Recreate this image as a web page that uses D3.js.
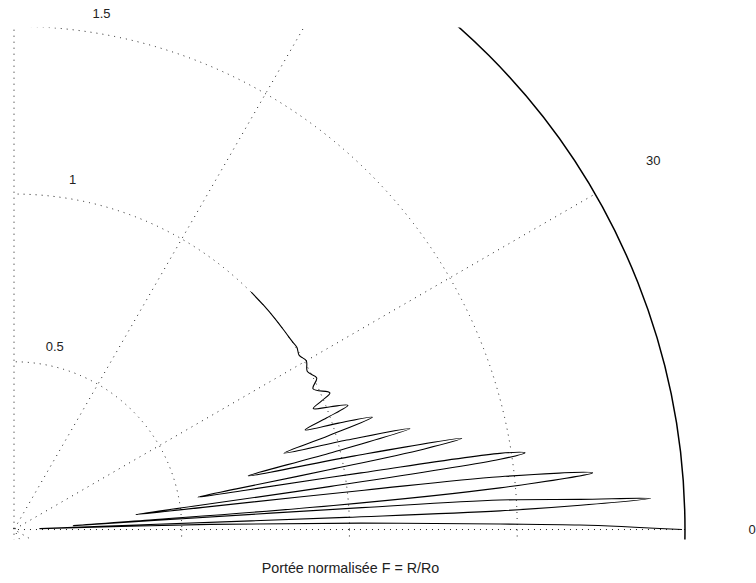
<!DOCTYPE html>
<html>
<head>
<meta charset="utf-8">
<script src="https://cdn.jsdelivr.net/npm/d3@7"></script>
<style>
  body { margin: 0; background: #fff; }
  svg { display: block; }
</style>
</head>
<body>
<script>
// ---- data ----
// normalized range F (radius) and angle in degrees along the traced curve
const rangeF = [
  1.000, 1.000, 1.000, 1.000, 1.001,
  1.003, 0.996, 1.006, 0.993, 1.009, 0.985,
  1.026, 0.994, 0.962, 1.012, 1.062, 0.990, 0.917, 1.018, 1.120, 0.978,
  0.836, 1.027, 1.218, 0.967, 0.716, 1.039, 1.362,
  1.244, 0.959, 0.674, 0.556,
  0.700, 1.048, 1.466, 1.540,
  1.464, 0.953, 0.538, 0.366,
  0.567, 1.050, 1.457, 1.733,
  1.454, 0.955, 0.405, 0.177,
  0.430, 1.039, 1.451, 1.690, 1.900,
  1.690, 1.450, 0.989, 0.344, 0.077,
  0.584, 1.034, 1.449, 1.687, 1.991
];
const angleDeg = [
  45.0, 42.0, 39.0, 36.0, 34.0,
  32.8, 31.4, 30.0, 28.3, 26.6, 25.2,
  23.4, 22.7, 22.0, 21.2, 20.4, 19.65, 18.9, 18.15, 17.4, 16.6,
  15.8, 15.05, 14.3, 13.6, 12.9, 12.2, 11.5,
  11.1, 10.75, 10.35, 10.0,
  9.64, 9.27, 8.91, 8.55,
  8.22, 7.75, 7.39, 7.0,
  6.7, 6.4, 6.2, 5.6,
  4.9, 4.3, 4.0, 3.8,
  3.7, 3.6, 3.47, 3.05, 2.8,
  2.45, 2.2, 2.1, 2.1, 2.1,
  1.52, 1.05, 0.65, 0.46, 0.0
];

const ringTicks = [0.5, 1, 1.5, 2];
const rMax = 2;
const spokeAngles = [30, 60, 90, 120, 150, 180];
const angleTicks = [0, 30, 60, 90, 120, 150, 180, 210, 240, 270, 300, 330];
const xLabel = "Portée normalisée F = R/Ro";

// ---- layout ----
const width = 756, height = 583;
const font = "'Liberation Sans', Arial, Helvetica, sans-serif";

const x = d3.scaleLinear().domain([-0.003, 2.009]).range([13, 688]);
const y = d3.scaleLinear().domain([-0.03, 1.496]).range([539.6, 27.5]);

const rad = (d) => d * Math.PI / 180;
const px = (r, a) => x(r * Math.cos(rad(a)));
const py = (r, a) => y(r * Math.sin(rad(a)));
// labels are not clipped, but only those landing on the page are drawn
const onPage = (xx, yy) => xx > -10 && xx < width + 10 && yy > 8 && yy < height;

const svg = d3.select("body").append("svg")
  .attr("width", width)
  .attr("height", height)
  .attr("viewBox", [0, 0, width, height]);

svg.append("defs").append("clipPath")
  .attr("id", "plot-clip")
  .append("rect")
  .attr("x", x.range()[0])
  .attr("y", y.range()[1])
  .attr("width", x.range()[1] - x.range()[0])
  .attr("height", y.range()[0] - y.range()[1]);

const plot = svg.append("g").attr("clip-path", "url(#plot-clip)");

const cx = x(0), cy = y(0);

// dotted range circles
plot.selectAll("circle.ring")
  .data(ringTicks.filter((d) => d < rMax))
  .join("circle")
  .attr("class", "ring")
  .attr("cx", cx)
  .attr("cy", cy)
  .attr("r", (d) => x(d) - x(0))
  .attr("fill", "none")
  .attr("stroke", "#000")
  .attr("stroke-width", 0.9)
  .attr("stroke-dasharray", "1,5");

// dotted spokes (full diameters)
plot.selectAll("line.spoke")
  .data(spokeAngles)
  .join("line")
  .attr("class", "spoke")
  .attr("x1", (a) => px(-rMax, a))
  .attr("y1", (a) => py(-rMax, a))
  .attr("x2", (a) => px(rMax, a))
  .attr("y2", (a) => py(rMax, a))
  .attr("stroke", "#000")
  .attr("stroke-width", 0.9)
  .attr("stroke-dasharray", "1,5");

// solid outer circle
plot.append("circle")
  .attr("cx", cx)
  .attr("cy", cy)
  .attr("r", x(rMax) - x(0))
  .attr("fill", "none")
  .attr("stroke", "#000")
  .attr("stroke-width", 1.5);

// traced curve
const pts = rangeF.map((r, i) => [r, angleDeg[i]]);
const line = d3.line()
  .x((d) => px(d[0], d[1]))
  .y((d) => py(d[0], d[1]))
  .curve(d3.curveCatmullRom.alpha(0.5));

plot.append("path")
  .datum(pts)
  .attr("fill", "none")
  .attr("stroke", "#000")
  .attr("stroke-width", 1.1)
  .attr("stroke-linejoin", "round")
  .attr("d", line);

// range labels, MATLAB style at 82 degrees
const rinc = 0.5;
svg.selectAll("text.rlabel")
  .data(ringTicks.filter((d) => onPage(px(d + rinc / 20, 82), py(d + rinc / 20, 82))))
  .join("text")
  .attr("class", "rlabel")
  .attr("x", (d) => px(d + rinc / 20, 82))
  .attr("y", (d) => py(d + rinc / 20, 82))
  .attr("dy", -4.5)
  .style("white-space", "pre")
  .style("font-family", font)
  .style("font-size", "13px")
  .attr("fill", "#222")
  .text((d) => "  " + d);

// angle labels
svg.selectAll("text.alabel")
  .data(angleTicks.filter((a) => onPage(px(1.1 * rMax, a), py(1.1 * rMax, a))))
  .join("text")
  .attr("class", "alabel")
  .attr("x", (a) => px(1.1 * rMax, a))
  .attr("y", (a) => py(1.1 * rMax, a))
  .attr("text-anchor", "middle")
  .attr("dominant-baseline", "central")
  .style("font-family", font)
  .style("font-size", "13px")
  .attr("fill", "#222")
  .text((a) => a);

// x label
svg.append("text")
  .attr("x", (x.range()[0] + x.range()[1]) / 2)
  .attr("y", 573)
  .attr("text-anchor", "middle")
  .style("font-family", font)
  .style("font-size", "14.3px")
  .attr("fill", "#222")
  .text(xLabel);
</script>
</body>
</html>
